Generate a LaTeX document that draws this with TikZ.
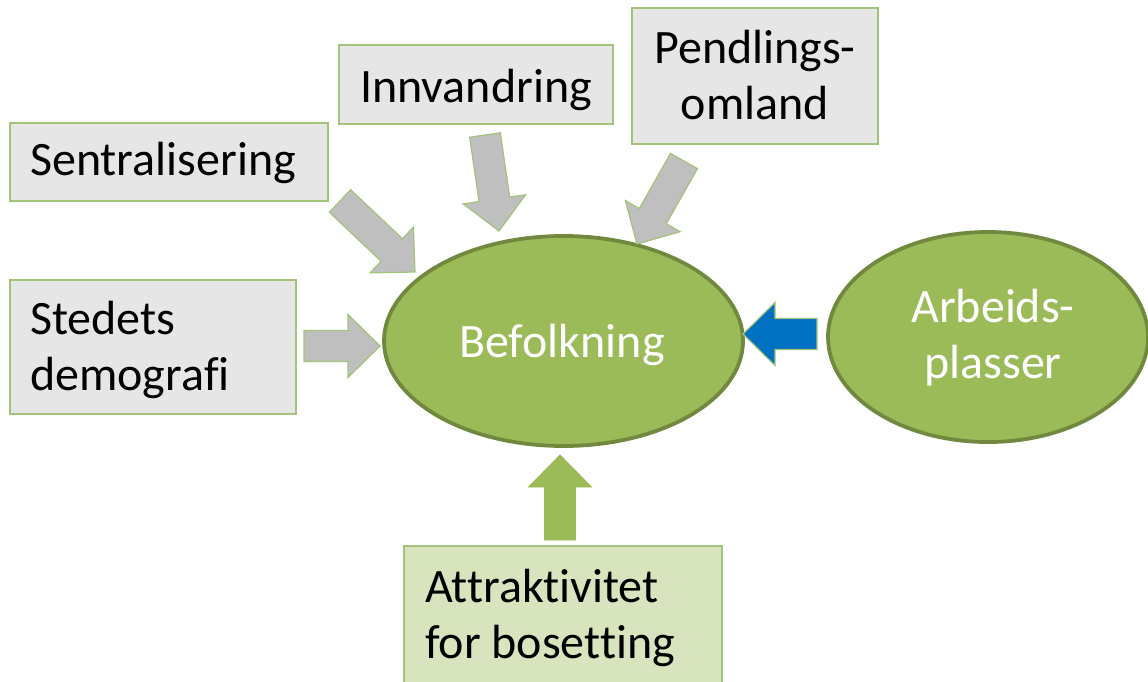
\documentclass[tikz,border=0pt]{standalone}
\usepackage{fontspec}
\setmainfont{Carlito}[Ligatures={NoCommon}]
\usetikzlibrary{calc,shapes.geometric}
\definecolor{boxgray}{HTML}{E7E6E6}
\definecolor{boxline}{HTML}{A3C37A}
\definecolor{olgreen}{HTML}{9BBB59}
\definecolor{olline}{HTML}{71893F}
\definecolor{arrgray}{HTML}{BFBFBF}
\definecolor{arrblue}{HTML}{0070C0}
\definecolor{lightgreen}{HTML}{D7E4BD}
\newcommand\blockarr[3]{%
  \coordinate (ba-hb) at ($(#3)!32pt!(#2)$);
  \draw[#1] ($(#2)!15.5pt!90:(#3)$) -- ($(ba-hb)!15.5pt!90:(#3)$) -- ($(ba-hb)!31.5pt!90:(#3)$) -- (#3)
    -- ($(ba-hb)!31.5pt!-90:(#3)$) -- ($(ba-hb)!15.5pt!-90:(#3)$) -- ($(#2)!15.5pt!-90:(#3)$) -- cycle;}
\begin{document}
\begin{tikzpicture}[x=1pt,y=-1pt,
  box/.style={draw=boxline, fill=boxgray, line width=1.6pt, inner sep=0pt},
  gbox/.style={box, fill=lightgreen},
  ell/.style={ellipse, draw=olline, fill=olgreen, line width=3.8pt, inner sep=0pt},
  txt/.style={font=\fontsize{48}{56}\selectfont, inner sep=0pt, text=black},
  wtxt/.style={txt, text=white},
  grayarrow/.style={fill=arrgray, draw=boxline, line width=1.2pt, line join=miter},
  bluearrow/.style={fill=arrblue, draw=boxline, line width=1.2pt, line join=miter},
  greenarrow/.style={fill=olgreen, draw=olgreen, line width=0.8pt, line join=miter}]
\useasboundingbox (0,0) rectangle (1148,681);
\clip (0,0) rectangle (1148,681);
% boxes
\node[box, minimum width=318pt, minimum height=78pt] (sent) at (169,162) {};
\node[box, minimum width=274pt, minimum height=79pt] (innv) at (476,84.5) {};
\node[box, minimum width=246pt, minimum height=136pt] (pend) at (755,76) {};
\node[box, minimum width=286pt, minimum height=134pt] (sted) at (153,347) {};
\node[gbox, minimum width=318pt, minimum height=154pt] (attr) at (563,623) {};
% ellipses
\node[ell, minimum width=359pt, minimum height=210pt] (bef) at (563.5,341) {};
\node[ell, minimum width=320pt, minimum height=210pt] (arb) at (988,337) {};
% texts
\node[txt, anchor=base west] at (30,175) {Sentralisering};
\node[txt, anchor=base west] at (360,102) {Innvandring};
\node[txt, anchor=base] at (755,63) {Pendlings-};
\node[txt, anchor=base] at (755,119) {omland};
\node[txt, anchor=base west] at (30,334) {Stedets};
\node[txt, anchor=base west] at (30,390) {demografi};
\node[txt, anchor=base west] at (425,602) {Attraktivitet};
\node[txt, anchor=base west] at (425,658) {for bosetting};
\node[wtxt, anchor=base] at (562,357) {Befolkning};
\node[wtxt, anchor=base] at (993,322) {Arbeids-};
\node[wtxt, anchor=base] at (993,378) {plasser};
% arrow coordinates
\coordinate (sd-t) at (304,346); \coordinate (sd-h) at (380,346);
\coordinate (se-t) at (340,201); \coordinate (se-h) at (415,272);
\coordinate (in-t) at (485,135); \coordinate (in-h) at (499,231);
\coordinate (pe-t) at (684,161); \coordinate (pe-h) at (637,244);
\coordinate (ab-t) at (817,334); \coordinate (ab-h) at (743,334);
\coordinate (at-t) at (560,540); \coordinate (at-h) at (560,455);
\blockarr{grayarrow}{sd-t}{sd-h}
\blockarr{grayarrow}{se-t}{se-h}
\blockarr{grayarrow}{in-t}{in-h}
\blockarr{grayarrow}{pe-t}{pe-h}
\blockarr{bluearrow}{ab-t}{ab-h}
\blockarr{greenarrow}{at-t}{at-h}
\end{tikzpicture}
\end{document}
